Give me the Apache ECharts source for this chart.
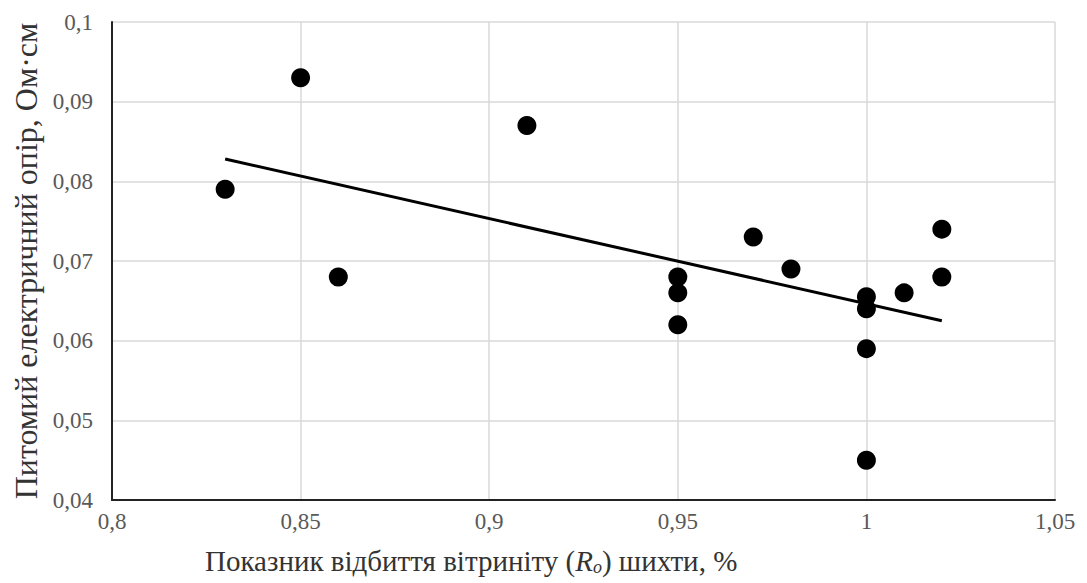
<!DOCTYPE html>
<html>
<head>
<meta charset="utf-8">
<script src="https://cdn.jsdelivr.net/npm/echarts@6/dist/echarts.min.js"></script>
<style>
  html, body { margin: 0; padding: 0; background: #fff; }
  #chart { width: 1087px; height: 583px; }
</style>
</head>
<body>
<div id="chart"></div>
<script>
// reflectance of vitrinite (x) vs specific electrical resistance (y)
const xValues = [0.83, 0.85, 0.86, 0.91, 0.95, 0.95, 0.95, 0.97, 0.98, 1.0, 1.0, 1.0, 1.0, 1.01, 1.02, 1.02]
const yValues = [0.079, 0.093, 0.068, 0.087, 0.068, 0.066, 0.062, 0.073, 0.069, 0.0655, 0.064, 0.059, 0.045, 0.066, 0.074, 0.068]
const trendX = [0.83, 1.02]
const trendY = [0.0828, 0.0625]

const points = xValues.map((x, i) => [x, yValues[i]])
const trend = trendX.map((x, i) => [x, trendY[i]])

const fmt = v => String(+v.toFixed(2)).replace('.', ',')
const serif = '"Liberation Serif", "DejaVu Serif", serif'

const chart = echarts.init(document.getElementById('chart'), null, { renderer: 'svg' })

chart.setOption({
  animation: false,
  grid: { left: 112, right: 32, top: 22, bottom: 83 },
  xAxis: {
    type: 'value',
    min: 0.8,
    max: 1.05,
    interval: 0.05,
    axisLine: { show: true, onZero: false, lineStyle: { color: '#222', width: 2 } },
    axisTick: { show: false },
    axisLabel: { color: '#595959', fontFamily: serif, fontSize: 23, margin: 10, formatter: fmt },
    splitLine: { show: true, lineStyle: { color: '#d9d9d9', width: 1.5 } }
  },
  yAxis: {
    type: 'value',
    min: 0.04,
    max: 0.1,
    interval: 0.01,
    name: 'Питомий електричний опір, Ом·см',
    nameLocation: 'middle',
    nameGap: 66,
    nameTextStyle: { color: '#333', fontFamily: serif, fontSize: 32 },
    axisLine: { show: true, onZero: false, lineStyle: { color: '#222', width: 2 } },
    axisTick: { show: false },
    axisLabel: { color: '#595959', fontFamily: serif, fontSize: 23, margin: 19, formatter: fmt },
    splitLine: { show: true, lineStyle: { color: '#d9d9d9', width: 1.5 } }
  },
  graphic: [{
    type: 'text',
    left: 205,
    top: 546,
    style: {
      text: '{a|Показник відбиття вітриніту (}{i|R}{s|o}{a|) шихти, %}',
      rich: {
        a: { fontFamily: serif, fontSize: 29, fill: '#333' },
        i: { fontFamily: serif, fontSize: 29, fontStyle: 'italic', fill: '#333' },
        s: { fontFamily: serif, fontSize: 18, fontStyle: 'italic', fill: '#333', padding: [12, 0, 0, 0] }
      }
    }
  }],
  series: [
    {
      type: 'scatter',
      data: points,
      symbol: 'circle',
      symbolSize: 19,
      itemStyle: { color: '#000', opacity: 1 },
      z: 3
    },
    {
      type: 'line',
      data: trend,
      symbol: 'none',
      lineStyle: { color: '#000', width: 3 },
      z: 2
    }
  ]
})
</script>
</body>
</html>
